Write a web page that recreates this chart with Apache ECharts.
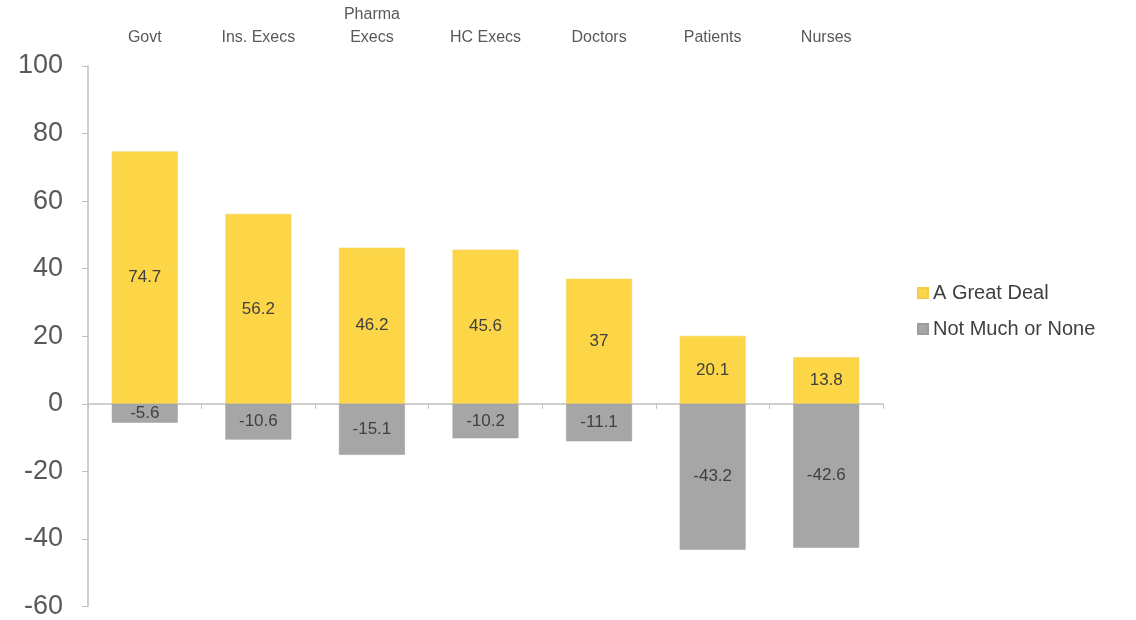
<!DOCTYPE html>
<html><head><meta charset="utf-8">
<script src="https://cdn.jsdelivr.net/npm/echarts@6/dist/echarts.min.js"></script>
<style>html,body{margin:0;padding:0;background:#fff}#c{width:1136px;height:620px}</style>
</head><body><div id="c"></div>
<script>
const categories = ['Govt', 'Ins. Execs', 'Pharma\nExecs', 'HC Execs', 'Doctors', 'Patients', 'Nurses'];
const greatDeal = [74.7, 56.2, 46.2, 45.6, 37, 20.1, 13.8];
const notMuch = [-5.6, -10.6, -15.1, -10.2, -11.1, -43.2, -42.6];
const yTicks = { min: -60, max: 100, interval: 20 };

const chart = echarts.init(document.getElementById('c'));
const labelStyle = { show: true, position: 'inside', color: '#404040', fontSize: 17, fontFamily: 'Liberation Sans, Arial, sans-serif' };
chart.setOption({
  animation: false,
  textStyle: { fontFamily: 'Liberation Sans, Arial, sans-serif' },
  grid: { left: 88, right: 253, top: 66, bottom: 13 },
  legend: {
    orient: 'vertical', left: 912, top: 278, itemWidth: 10, itemHeight: 10, itemGap: 16, icon: 'rect',
    textStyle: { fontSize: 20, color: '#404040' },
    data: ['A Great Deal', 'Not Much or None']
  },
  xAxis: [
    { type: 'category', data: categories, position: 'bottom',
      axisLine: { onZero: true, lineStyle: { color: '#c0c0c0', width: 1.5 } },
      axisTick: { show: true, length: 5, lineStyle: { color: '#c0c0c0' } },
      axisLabel: { show: false } },
    { type: 'category', data: categories, position: 'top',
      axisLine: { show: false }, axisTick: { show: false },
      axisLabel: { show: true, color: '#595959', fontSize: 16, margin: 17, lineHeight: 23, interval: 0 } }
  ],
  yAxis: {
    type: 'value', min: yTicks.min, max: yTicks.max, interval: yTicks.interval,
    splitLine: { show: false },
    axisLine: { show: true, lineStyle: { color: '#c0c0c0', width: 1.5 } },
    axisTick: { show: true, length: 6, lineStyle: { color: '#c0c0c0' } },
    axisLabel: { color: '#595959', fontSize: 27, margin: 25 }
  },
  series: [
    { name: 'A Great Deal', type: 'bar', stack: 's', data: greatDeal, barCategoryGap: '42%',
      itemStyle: { color: '#FDD648', borderColor: '#f1cc50', borderWidth: 0.5 }, label: labelStyle },
    { name: 'Not Much or None', type: 'bar', stack: 's', data: notMuch,
      itemStyle: { color: '#A6A6A6', borderColor: '#9c9c9c', borderWidth: 0.5 }, label: labelStyle }
  ]
});
</script></body></html>
